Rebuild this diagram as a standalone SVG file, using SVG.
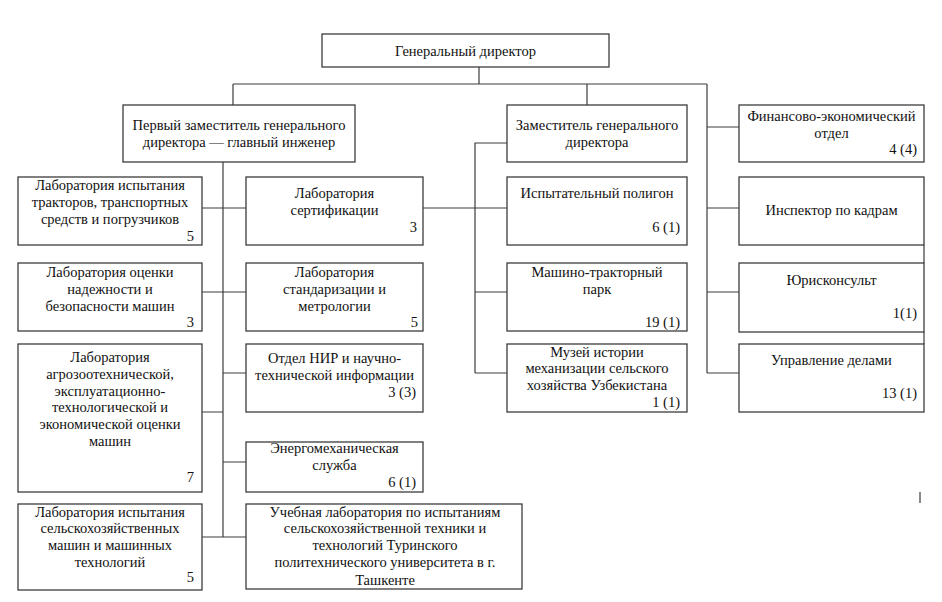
<svg xmlns="http://www.w3.org/2000/svg" width="942" height="602" viewBox="0 0 942 602">
<style>
.b{fill:#fff;stroke:#3c3c3c;stroke-width:1.3}
.c{fill:none;stroke:#3c3c3c;stroke-width:1.2}
text{font-size:14.5px;fill:#111}
.m{text-anchor:middle}
.r{text-anchor:end}
</style>
<rect width="942" height="602" fill="#fff"/>
<g id="connectors" class="c">
<path d="M479 67V84M233 84H707M233 84V105M587 84V105M707 84V373"/>
<path d="M707 127H739M707 208H739M707 292H739M707 373H739"/>
<path d="M223 162V537M202 208H246M202 292H246M202 412H223M223 373H246M223 462H246M202 537H246"/>
<path d="M423 208H507M507 143H475V373M475 292H507M475 373H507"/>
<path d="M924 245V263M924 332V344"/>
<path d="M920 492V503"/>
</g>
<g font-family="'Liberation Serif', 'Times New Roman', 'DejaVu Serif', serif">
<g id="gen"><rect class="b" x="322" y="34" width="287" height="33"/><text class="m" x="465.5" y="56">Генеральный директор</text></g>
<g id="first-deputy"><rect class="b" x="123" y="105" width="232" height="57"/><text class="m" x="239" y="130">Первый заместитель генерального</text><text class="m" x="239" y="147">директора — главный инженер</text></g>
<g id="deputy"><rect class="b" x="507" y="105" width="180" height="57"/><text class="m" x="597" y="130">Заместитель генерального</text><text class="m" x="597" y="147">директора</text></g>
<g id="fin"><rect class="b" x="739" y="105" width="185" height="57"/><text class="m" x="831.5" y="121">Финансово-экономический</text><text class="m" x="831.5" y="138">отдел</text><text class="r" x="917" y="154">4 (4)</text></g>
<g id="lab-tractors"><rect class="b" x="18" y="177" width="184" height="68"/><text class="m" x="110" y="190">Лаборатория испытания</text><text class="m" x="110" y="207">тракторов, транспортных</text><text class="m" x="110" y="224">средств и погрузчиков</text><text class="r" x="194" y="241">5</text></g>
<g id="lab-cert"><rect class="b" x="246" y="177" width="177" height="68"/><text class="m" x="334.5" y="198">Лаборатория</text><text class="m" x="334.5" y="215">сертификации</text><text class="r" x="417" y="232">3</text></g>
<g id="polygon"><rect class="b" x="507" y="177" width="180" height="68"/><text class="m" x="597" y="198">Испытательный полигон</text><text class="r" x="680" y="232">6 (1)</text></g>
<g id="inspector"><rect class="b" x="739" y="177" width="185" height="68"/><text class="m" x="831.5" y="215">Инспектор по кадрам</text></g>
<g id="lab-reliability"><rect class="b" x="18" y="263" width="184" height="68"/><text class="m" x="110" y="277">Лаборатория оценки</text><text class="m" x="110" y="294">надежности и</text><text class="m" x="110" y="311">безопасности машин</text><text class="r" x="194" y="327">3</text></g>
<g id="lab-standard"><rect class="b" x="246" y="263" width="177" height="68" stroke-width="1.6"/><text class="m" x="334.5" y="277">Лаборатория</text><text class="m" x="334.5" y="294">стандаризации и</text><text class="m" x="334.5" y="311">метрологии</text><text class="r" x="418" y="327">5</text></g>
<g id="mtp"><rect class="b" x="507" y="263" width="180" height="68"/><text class="m" x="597" y="277">Машино-тракторный</text><text class="m" x="597" y="294">парк</text><text class="r" x="680" y="327">19 (1)</text></g>
<g id="jurist"><rect class="b" x="739" y="263" width="185" height="69"/><text class="m" x="831.5" y="285">Юрисконсульт</text><text class="r" x="917" y="318">1(1)</text></g>
<g id="lab-agro"><rect class="b" x="18" y="344" width="184" height="148"/><text class="m" x="110" y="362">Лаборатория</text><text class="m" x="110" y="379">агрозоотехнической,</text><text class="m" x="110" y="396">эксплуатационно-</text><text class="m" x="110" y="412">технологической и</text><text class="m" x="110" y="429">экономической оценки</text><text class="m" x="110" y="446">машин</text><text class="r" x="194" y="482">7</text></g>
<g id="nir"><rect class="b" x="246" y="344" width="177" height="68"/><text class="m" x="334.5" y="363">Отдел НИР и научно-</text><text class="m" x="334.5" y="380">технической информации</text><text class="r" x="416" y="397">3 (3)</text></g>
<g id="museum"><rect class="b" x="507" y="344" width="180" height="68"/><text class="m" x="597" y="357">Музей истории</text><text class="m" x="597" y="373">механизации сельского</text><text class="m" x="597" y="390">хозяйства Узбекистана</text><text class="r" x="680" y="407">1 (1)</text></g>
<g id="affairs"><rect class="b" x="739" y="344" width="185" height="68"/><text class="m" x="831.5" y="365">Управление делами</text><text class="r" x="917" y="398">13 (1)</text></g>
<g id="energo"><rect class="b" x="246" y="442" width="177" height="50"/><text class="m" x="334.5" y="453">Энергомеханическая</text><text class="m" x="334.5" y="470">служба</text><text class="r" x="416" y="487">6 (1)</text></g>
<g id="lab-agri"><rect class="b" x="18" y="504" width="184" height="86"/><text class="m" x="110" y="517">Лаборатория испытания</text><text class="m" x="110" y="533">сельскохозяйственных</text><text class="m" x="110" y="550">машин и машинных</text><text class="m" x="110" y="567">технологий</text><text class="r" x="194" y="582">5</text></g>
<g id="edu-lab"><rect class="b" x="246" y="504" width="276" height="85"/><text class="m" x="385" y="517">Учебная лаборатория по испытаниям</text><text class="m" x="385" y="533">сельскохозяйственной техники и</text><text class="m" x="385" y="550">технологий Туринского</text><text class="m" x="385" y="567">политехнического университета в г.</text><text class="m" x="385" y="585">Ташкенте</text></g>
</g>
</svg>
